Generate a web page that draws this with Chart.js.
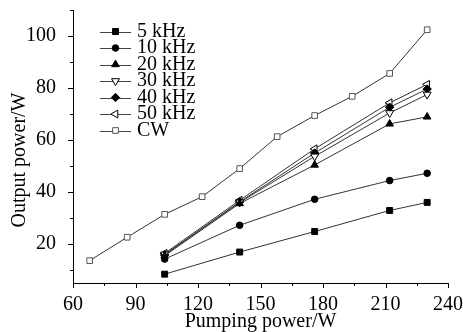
<!DOCTYPE html>
<html>
<head>
<meta charset="utf-8">
<script src="https://cdn.jsdelivr.net/npm/chart.js@4.4.0/dist/chart.umd.min.js"></script>
<style>
  html, body { margin: 0; padding: 0; background: #fff; }
  #wrap { width: 463px; height: 332px; }
</style>
</head>
<body>
<div id="wrap"><canvas id="c" width="463" height="332"></canvas></div>
<script>
'use strict';

// Data
const seriesNames = ['5 kHz', '10 kHz', '20 kHz', '30 kHz', '40 kHz', '50 kHz', 'CW'];
const pumpX = [104, 140, 176, 212, 230];
const cwX   = [68, 86, 104, 122, 140, 158, 176, 194, 212, 230];
const p5kHz  = [8.4, 16.9, 24.8, 32.9, 36.0];
const p10kHz = [14.2, 27.2, 37.2, 44.4, 47.2];
const p20kHz = [15.5, 35.6, 50.4, 66.2, 68.9];
const p30kHz = [16.0, 36.0, 53.7, 70.4, 77.5];
const p40kHz = [15.8, 36.2, 55.0, 72.6, 79.6];
const p50kHz = [16.4, 36.8, 56.6, 74.3, 81.4];
const pCW    = [13.6, 22.6, 31.4, 38.2, 49.0, 61.3, 69.4, 76.8, 85.6, 102.4];
const xTicks = [60, 75, 90, 105, 120, 135, 150, 165, 180, 195, 210, 225, 240];
const yTicks = [10, 20, 30, 40, 50, 60, 70, 80, 90, 100, 110];

const FONT = "'Liberation Serif', 'Times New Roman', serif";

const toPts = (xs, ys) => xs.map((x, i) => ({ x, y: ys[i] }));

// marker look per series: [pointStyle, rotation, radius, filled]
const markers = [
  ['rect', 0, 4.2, true],
  ['circle', 0, 3.3, true],
  ['triangle', 0, 4.4, true],
  ['triangle', 180, 4.6, false],
  ['rectRot', 0, 4.2, true],
  ['triangle', 270, 4.6, false],
  ['rect', 0, 4.0, false]
];
const values = [p5kHz, p10kHz, p20kHz, p30kHz, p40kHz, p50kHz, pCW];

const datasets = seriesNames.map((name, i) => {
  const [style, rot, r, filled] = markers[i];
  return {
    label: name,
    data: toPts(i === 6 ? cwX : pumpX, values[i]),
    borderColor: '#333',
    borderWidth: 1,
    pointStyle: style,
    pointRotation: rot,
    pointRadius: r,
    pointBackgroundColor: filled ? '#000' : '#fff',
    pointBorderColor: i === 6 ? '#555' : '#000',
    pointBorderWidth: 1,
    tension: 0
  };
});

// outward major/minor tick marks
const tickMarks = {
  id: 'tickMarks',
  afterDraw(chart) {
    const { ctx, scales: { x, y } } = chart;
    ctx.save();
    ctx.strokeStyle = '#000';
    ctx.lineWidth = 1;
    ctx.beginPath();
    xTicks.forEach(v => {
      const px = Math.round(x.getPixelForValue(v)) + 0.5;
      const len = v % 30 === 0 ? 5 : 3;
      ctx.moveTo(px, x.top);
      ctx.lineTo(px, x.top + len);
    });
    yTicks.forEach(v => {
      const py = Math.round(y.getPixelForValue(v)) + 0.5;
      const len = v % 20 === 0 ? 5 : 3;
      ctx.moveTo(y.right, py);
      ctx.lineTo(y.right - len, py);
    });
    ctx.stroke();
    ctx.restore();
  }
};

// y title sits a little below the axis centre in the original
const yTitle = {
  id: 'yTitle',
  afterDraw(chart) {
    const { ctx } = chart;
    ctx.save();
    ctx.fillStyle = '#000';
    ctx.font = '20px ' + FONT;
    ctx.textAlign = 'center';
    ctx.textBaseline = 'middle';
    ctx.translate(20, 160);
    ctx.rotate(-Math.PI / 2);
    ctx.fillText('Output power/W', 0, 0);
    ctx.restore();
  }
};

// legend: short line with marker in the middle, then label
const lineLegend = {
  id: 'lineLegend',
  afterDraw(chart) {
    const { ctx } = chart;
    ctx.save();
    ctx.font = '20px ' + FONT;
    ctx.textBaseline = 'middle';
    ctx.textAlign = 'left';
    chart.data.datasets.forEach((ds, i) => {
      const yy = 31.5 + i * 16.5;
      ctx.strokeStyle = '#444';
      ctx.lineWidth = 1;
      ctx.beginPath();
      ctx.moveTo(100, Math.round(yy) + 0.5);
      ctx.lineTo(131, Math.round(yy) + 0.5);
      ctx.stroke();
      ctx.fillStyle = ds.pointBackgroundColor;
      ctx.strokeStyle = ds.pointBorderColor;
      Chart.helpers.drawPoint(ctx, {
        pointStyle: ds.pointStyle,
        rotation: ds.pointRotation,
        radius: ds.pointRadius,
        borderWidth: 1
      }, 115.5, yy);
      ctx.fillStyle = '#000';
      ctx.fillText(ds.label, 137, yy);
    });
    ctx.restore();
  }
};

new Chart(document.getElementById('c').getContext('2d'), {
  type: 'line',
  data: { datasets },
  options: {
    responsive: false,
    animation: false,
    events: [],
    layout: { padding: { left: 0, right: 15, top: 10, bottom: 0 } },
    plugins: { legend: { display: false }, tooltip: { enabled: false } },
    scales: {
      x: {
        type: 'linear',
        min: 60,
        max: 240,
        afterBuildTicks(s) { s.ticks = xTicks.map(v => ({ value: v })); },
        afterFit(s) { s.height = 49; s.paddingLeft = 0; s.paddingRight = 0; },
        grid: { display: false },
        border: { display: true, color: '#000', width: 1 },
        ticks: {
          color: '#000',
          padding: 2,
          maxRotation: 0,
          autoSkip: false,
          font: { family: FONT, size: 20 },
          callback: v => (v % 30 === 0 ? v : '')
        },
        title: {
          display: true,
          text: 'Pumping power/W',
          color: '#000',
          padding: 0,
          font: { family: FONT, size: 20, lineHeight: 1 }
        }
      },
      y: {
        type: 'linear',
        min: 5,
        max: 110,
        afterBuildTicks(s) { s.ticks = yTicks.map(v => ({ value: v })); },
        afterFit(s) { s.width = 73; s.paddingTop = 0; s.paddingBottom = 0; },
        grid: { display: false },
        border: { display: true, color: '#000', width: 1 },
        ticks: {
          color: '#000',
          padding: 9,
          autoSkip: false,
          font: { family: FONT, size: 20 },
          callback: v => (v % 20 === 0 ? v : '')
        }
      }
    }
  },
  plugins: [tickMarks, yTitle, lineLegend]
});
</script>
</body>
</html>
